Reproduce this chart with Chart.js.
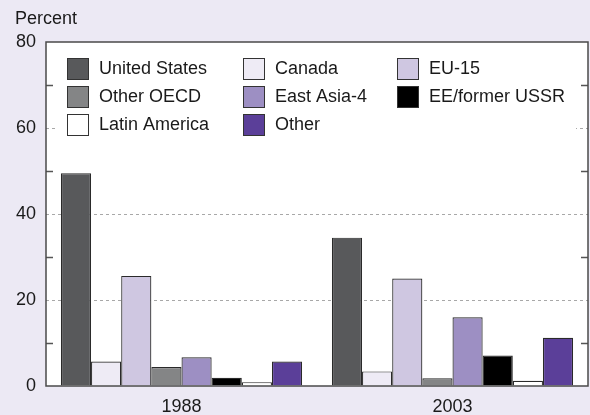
<!DOCTYPE html>
<html>
<head>
<meta charset="utf-8">
<script src="https://cdn.jsdelivr.net/npm/chart.js@4.4.1/dist/chart.umd.min.js"></script>
<style>
  html, body { margin: 0; padding: 0; background: #ECE9F4; }
  canvas { display: block; }
</style>
</head>
<body>
<canvas id="myChart" width="590" height="415"></canvas>
<script>
// DATA
const years = ["1988", "2003"];
const unitedStates = [49.5, 34.5];
const canada = [5.7, 3.4];
const eu15 = [25.6, 25.0];
const otherOecd = [4.4, 1.8];
const eastAsia4 = [6.7, 16.0];
const eeFormerUssr = [1.9, 7.1];
const latinAmerica = [0.9, 1.2];
const other = [5.7, 11.2];
const yTicks = [0, 20, 40, 60, 80];

const seriesNames = ["United States", "Canada", "EU-15", "Other OECD",
  "East Asia-4", "EE/former USSR", "Latin America", "Other"];
const seriesValues = [unitedStates, canada, eu15, otherOecd,
  eastAsia4, eeFormerUssr, latinAmerica, other];
const seriesColors = ["#58595B", "#EEEBF5", "#CFC7E1", "#848586",
  "#9D8FC3", "#000000", "#FFFFFF", "#5B3F99"];

const FONT = "'Liberation Sans', Arial, Helvetica, sans-serif";

// white plot area
const plotBgPlugin = {
  id: "plotBg",
  beforeDraw(chart) {
    const a = chart.chartArea;
    chart.ctx.save();
    chart.ctx.fillStyle = "#FFFFFF";
    chart.ctx.fillRect(a.left, a.top, a.right - a.left, a.bottom - a.top);
    chart.ctx.restore();
  }
};

// frame, minor ticks, grid legend, axis title
const decorPlugin = {
  id: "decor",
  afterDraw(chart) {
    const ctx = chart.ctx;
    const a = chart.chartArea;
    const y = chart.scales.y;
    ctx.save();

    // minor ticks inside both sides
    ctx.strokeStyle = "#555";
    ctx.lineWidth = 1.5;
    [10, 30, 50, 70].forEach(v => {
      const py = Math.round(y.getPixelForValue(v)) + 0.5;
      ctx.beginPath();
      ctx.moveTo(a.left, py); ctx.lineTo(a.left + 7, py);
      ctx.moveTo(a.right - 7, py); ctx.lineTo(a.right, py);
      ctx.stroke();
    });

    // legend block
    ctx.fillStyle = "#FFFFFF";
    ctx.fillRect(56, 48, 520, 94);
    const colX = [67, 243, 397];
    const rowY = [58, 86, 114];
    ctx.font = "18px " + FONT;
    ctx.textBaseline = "middle";
    ctx.textAlign = "left";
    seriesNames.forEach((name, i) => {
      const cx = colX[i % 3];
      const cy = rowY[Math.floor(i / 3)];
      ctx.fillStyle = seriesColors[i];
      ctx.fillRect(cx, cy, 22, 22);
      ctx.strokeStyle = "#333";
      ctx.lineWidth = 1;
      ctx.strokeRect(cx + 0.5, cy + 0.5, 21, 21);
      ctx.fillStyle = "#1a1a1a";
      ctx.fillText(name, cx + 32, cy + 11);
    });

    // frame
    ctx.strokeStyle = "#4a4a4a";
    ctx.lineWidth = 1.5;
    ctx.strokeRect(a.left, a.top, a.right - a.left, a.bottom - a.top);

    // axis title
    ctx.fillStyle = "#1a1a1a";
    ctx.font = "18px " + FONT;
    ctx.textBaseline = "middle";
    ctx.fillText("Percent", 15, 19);
    ctx.restore();
  }
};

const data = {
  labels: years,
  datasets: seriesNames.map((name, i) => ({
    label: name,
    data: seriesValues[i],
    backgroundColor: seriesColors[i],
    borderColor: "#2a2a2a",
    borderWidth: 1.2,
    borderSkipped: "bottom",
    categoryPercentage: 0.89,
    barPercentage: 1.0
  }))
};

const config = {
  type: "bar",
  data,
  options: {
    responsive: false,
    devicePixelRatio: 1,
    animation: false,
    layout: { padding: { left: 0, right: 2, top: 42, bottom: 0 } },
    plugins: {
      legend: { display: false },
      tooltip: { enabled: false }
    },
    scales: {
      x: {
        grid: { display: false, drawTicks: false },
        border: { display: false },
        ticks: { color: "#1a1a1a", font: { family: FONT, size: 18 }, padding: 10 },
        afterFit: s => { s.height = 29; }
      },
      y: {
        min: 0,
        max: 80,
        afterFit: s => { s.width = 46; },
        afterBuildTicks: s => {
          s.ticks = [0, 10, 20, 30, 40, 50, 60, 70, 80].map(v => ({ value: v }));
        },
        ticks: {
          color: "#1a1a1a",
          font: { family: FONT, size: 18 },
          padding: 10,
          callback: v => (yTicks.includes(v) ? String(v) : "")
        },
        grid: {
          drawTicks: false,
          lineWidth: 1,
          color: c => ([20, 40, 60].includes(c.tick.value) ? "#A8A8A8" : "rgba(0,0,0,0)")
        },
        border: { display: false, dash: [3, 3] }
      }
    }
  },
  plugins: [plotBgPlugin, decorPlugin]
};

const myChart = new Chart(document.getElementById("myChart"), config);
</script>
</body>
</html>
